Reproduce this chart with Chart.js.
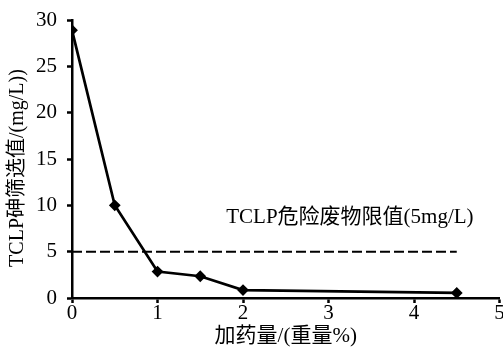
<!DOCTYPE html>
<html>
<head>
<meta charset="utf-8">
<script src="https://cdn.jsdelivr.net/npm/chart.js@4"></script>
<style>
  html, body { margin: 0; padding: 0; background: #fff; overflow: hidden; }
  #wrap { width: 503px; height: 352px; overflow: hidden; }
</style>
</head>
<body>
<div id="wrap"><canvas id="tclpChart" width="520" height="352"></canvas></div>
<script>
// dosage (wt%) vs TCLP arsenic leaching value (mg/L)
const dosage = [0, 0.5, 1, 1.5, 2, 4.5];
const arsenic = [28.9, 10, 2.85, 2.35, 0.85, 0.55];
const limitX = [0, 4.5];
const limitValue = 5;
const limitLabel = 'TCLP危险废物限值(5mg/L)';
const labelAt = { x: 3.25, y: 8.65 };
const xTicks = [0, 1, 2, 3, 4, 5];
const yTicks = [0, 5, 10, 15, 20, 25, 30];
const xTitle = '加药量/(重量%)';
const yTitle = 'TCLP砷筛选值/(mg/L))';

const FONT = '"Liberation Serif", "Noto Sans CJK SC", serif';

const extraText = {
    id: 'extraText',
    afterDatasetsDraw(chart) {
        const { ctx, scales } = chart;
        ctx.save();
        ctx.fillStyle = '#000';
        ctx.textAlign = 'center';
        ctx.textBaseline = 'middle';
        ctx.font = '21px ' + FONT;
        ctx.fillText(limitLabel, scales.x.getPixelForValue(labelAt.x), scales.y.getPixelForValue(labelAt.y));
        // y axis title, sits a little below the plot centre in the original
        ctx.font = '20px ' + FONT;
        ctx.translate(18, 168);
        ctx.rotate(-Math.PI / 2);
        ctx.fillText(yTitle, 0, 0);
        ctx.restore();
    }
};

new Chart(document.getElementById('tclpChart').getContext('2d'), {
    type: 'line',
    data: {
        datasets: [
            {
                label: 'TCLP',
                data: dosage.map((d, i) => ({ x: d, y: arsenic[i] })),
                borderColor: '#000',
                backgroundColor: '#000',
                borderWidth: 2.7,
                pointStyle: 'rectRot',
                pointRadius: 4,
                tension: 0
            },
            {
                label: 'limit',
                data: limitX.map(x => ({ x: x, y: limitValue })),
                borderColor: '#000',
                borderWidth: 2,
                borderDash: [10, 4],
                pointRadius: 0
            }
        ]
    },
    options: {
        responsive: false,
        animation: false,
        layout: { padding: { top: 20, right: 20.5, left: 0, bottom: 0 } },
        plugins: {
            legend: { display: false },
            tooltip: { enabled: false }
        },
        scales: {
            x: {
                type: 'linear',
                min: 0,
                max: 5,
                afterBuildTicks: s => { s.ticks = xTicks.map(v => ({ value: v })); },
                afterFit: s => { s.height = 54; },
                grid: { display: true, drawOnChartArea: false, drawTicks: true, tickLength: 5, tickWidth: 2.5, tickColor: '#000' },
                border: { color: '#000', width: 2.5 },
                ticks: { color: '#000', font: { family: FONT, size: 21 }, padding: -2, maxRotation: 0 },
                title: { display: true, text: xTitle, color: '#000', font: { family: FONT, size: 21 }, padding: { top: 0, bottom: 3 } }
            },
            y: {
                min: 0,
                max: 30,
                afterBuildTicks: s => { s.ticks = yTicks.map(v => ({ value: v })); },
                afterFit: s => { s.width = 72; s.paddingTop = 0; s.paddingBottom = 0; },
                grid: { display: true, drawOnChartArea: false, drawTicks: true, tickLength: 5, tickWidth: 2.5, tickColor: '#000' },
                border: { color: '#000', width: 2.5 },
                ticks: { color: '#000', font: { family: FONT, size: 21 }, padding: 10 },
                title: { display: false }
            }
        }
    },
    plugins: [extraText]
});
</script>
</body>
</html>
